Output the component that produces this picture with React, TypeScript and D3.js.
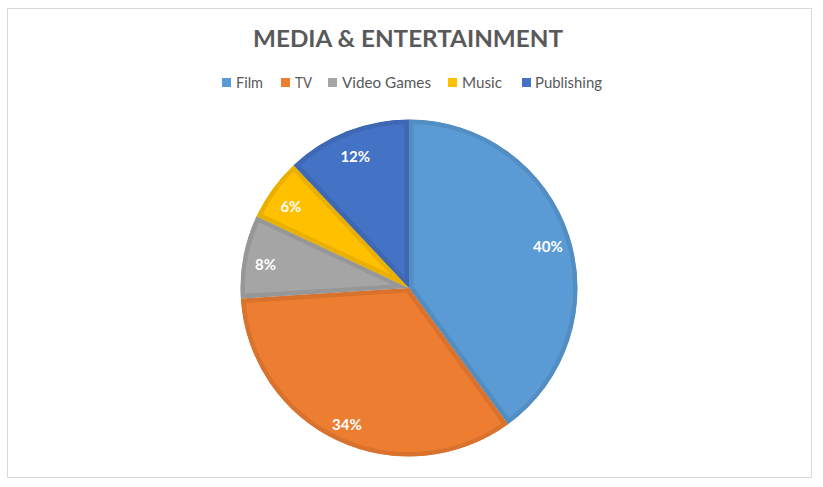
import React from "react";
import * as d3 from "d3";

const categories = ["Film", "TV", "Video Games", "Music", "Publishing"];
const values = [40, 34, 8, 6, 12];
const colors = ["#5B9BD5", "#ED7D31", "#A5A5A5", "#FFC000", "#4472C4"];
const titleText = "MEDIA & ENTERTAINMENT";

const W = 823;
const H = 487;
const cx = 409;
const cy = 288;
const R = 168.5;
const labelR = 146;

// legend layout: [squareX, textX, textWidth]
const legendPos: [number, number, number][] = [
  [222, 236, 27],
  [281, 295, 17],
  [328, 342, 89],
  [448, 462, 40],
  [522, 535, 67],
];

export default function App() {
  const pie = d3.pie<number>().sort(null).value((d) => d).startAngle(0).endAngle(2 * Math.PI);
  const arcs = pie(values);
  const arc = d3.arc<d3.PieArcDatum<number>>().innerRadius(0).outerRadius(R);
  const total = d3.sum(values);
  const font = "Lato, 'Open Sans', sans-serif";

  return (
    <svg width={W} height={H} style={{ position: "absolute", left: 0, top: 0 }}>
      <rect x={0} y={0} width={W} height={H} fill="#fff" />
      <rect x={7.5} y={8.5} width={804} height={469} fill="#fff" stroke="#d9d9d9" strokeWidth={1} />
      <text
        x={408}
        y={47}
        textAnchor="middle"
        fontFamily={font}
        fontWeight={700}
        fontSize={23}
        fill="#595959"
        textLength={310}
        lengthAdjust="spacingAndGlyphs"
      >
        {titleText}
      </text>
      {categories.map((c, i) => (
        <g key={c}>
          <rect x={legendPos[i][0]} y={78} width={9} height={9} fill={colors[i]} />
          <text
            x={legendPos[i][1]}
            y={87.5}
            fontFamily={font}
            fontSize={15}
            fill="#595959"
            textLength={legendPos[i][2]}
            lengthAdjust="spacingAndGlyphs"
          >
            {c}
          </text>
        </g>
      ))}
      <g transform={`translate(${cx},${cy})`}>
        <defs>
          {arcs.map((a, i) => (
            <clipPath key={i} id={`clip${i}`}>
              <path d={arc(a) || ""} />
            </clipPath>
          ))}
        </defs>
        {arcs.map((a, i) => {
          const stroke = d3.color(colors[i])!.darker(0.25).formatHex();
          return (
            <path
              key={i}
              d={arc(a) || ""}
              fill={colors[i]}
              stroke={stroke}
              strokeWidth={9}
              strokeLinejoin="round"
              clipPath={`url(#clip${i})`}
            />
          );
        })}
        {arcs.map((a, i) => {
          const mid = (a.startAngle + a.endAngle) / 2;
          const x = labelR * Math.sin(mid);
          const y = -labelR * Math.cos(mid) + 4;
          return (
            <text
              key={i}
              x={x}
              y={y}
              dy="0.36em"
              textAnchor="middle"
              fontFamily={font}
              fontWeight={700}
              fontSize={15}
              fill="#fff"
            >
              {Math.round((values[i] / total) * 100)}%
            </text>
          );
        })}
      </g>
    </svg>
  );
}
